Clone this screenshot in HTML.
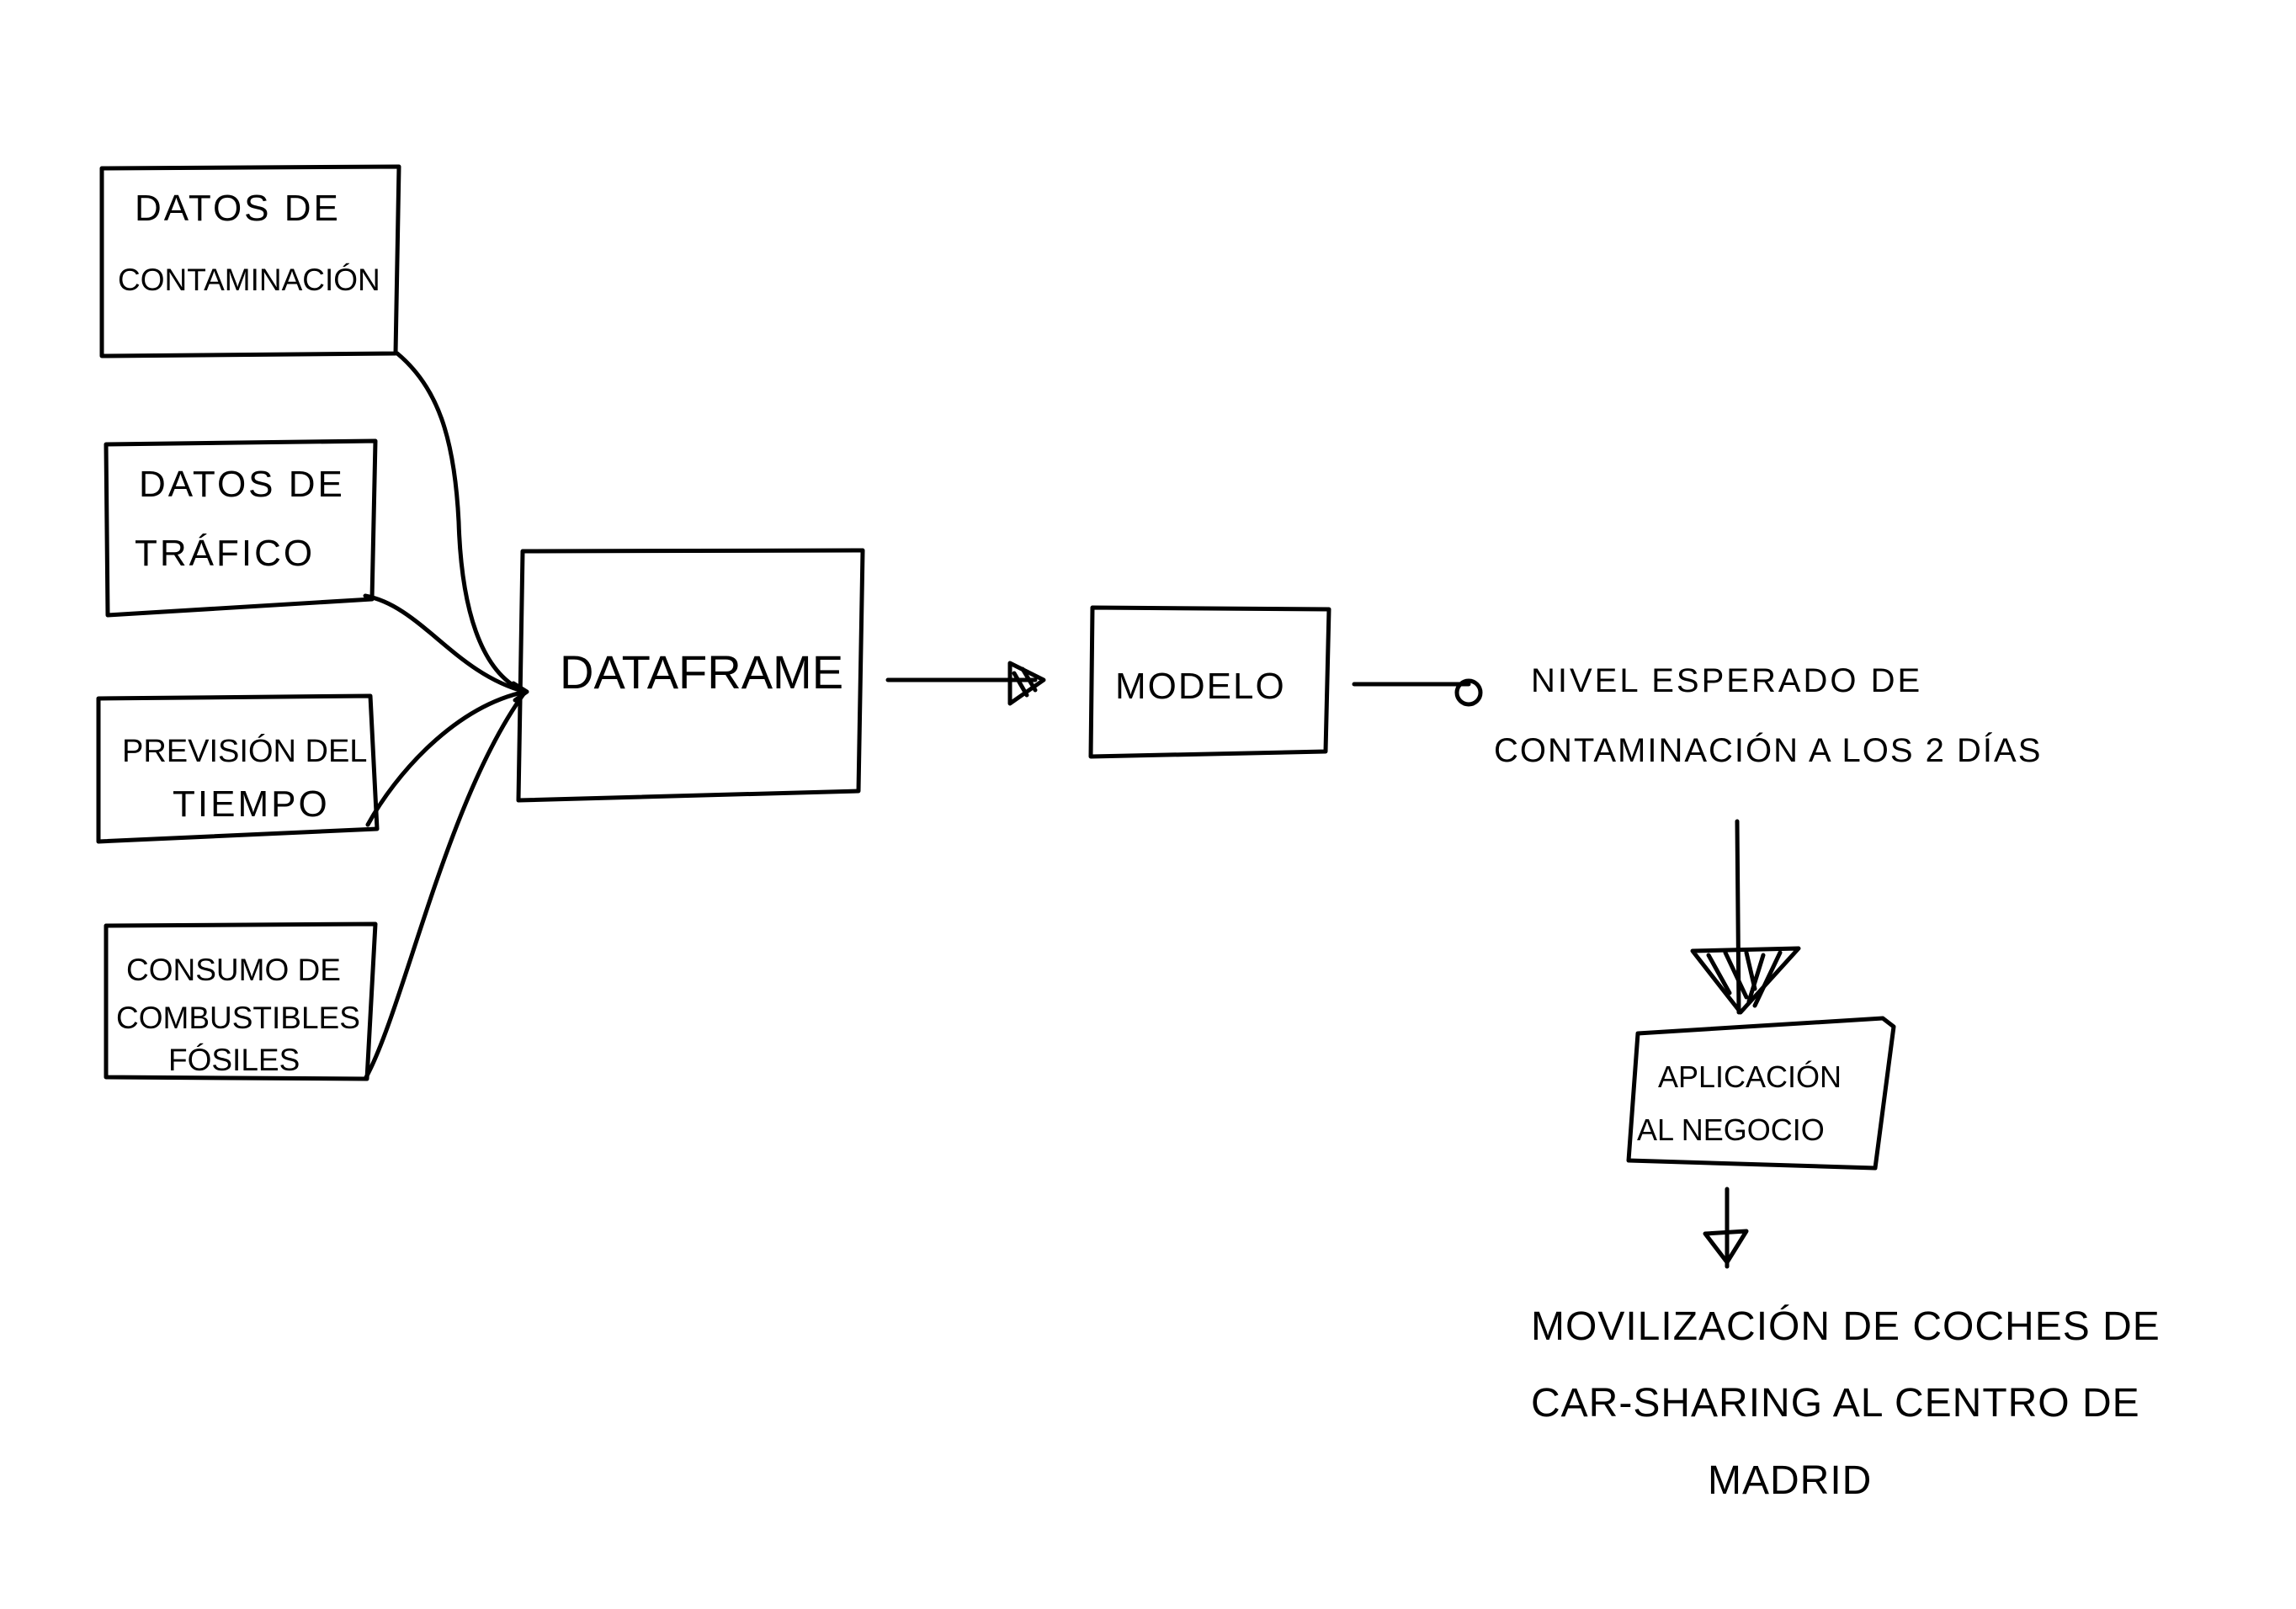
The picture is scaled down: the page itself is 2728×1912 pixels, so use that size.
<!DOCTYPE html>
<html><head><meta charset="utf-8"><style>
html,body{margin:0;padding:0;background:#fff;}
svg{display:block;}
text{font-family:"Liberation Sans",sans-serif;fill:#000;}
</style></head><body>
<svg width="2728" height="1912" viewBox="0 0 2728 1912" xmlns="http://www.w3.org/2000/svg">
<g fill="none" stroke="#000" stroke-width="5" stroke-linecap="round" stroke-linejoin="round">
<polygon points="121,200 474,198 470,420 121,423"/>
<polygon points="126,528 446,524 442,712 128,731"/>
<polygon points="117,830 440,827 448,985 117,1000"/>
<polygon points="126,1100 446,1098 436,1282 126,1280"/>
<polygon points="621,655 1025,654 1020,940 616,951"/>
<polygon points="1298,722 1579,724 1575,893 1296,899"/>
<polygon points="1946,1228 2237,1210 2250,1220 2228,1388 1935,1379"/>
<path d="M472,420 C520,460 540,520 545,620 C548,720 570,800 624,822"/>
<path d="M434,708 C500,720 540,800 624,822"/>
<path d="M437,980 C470,920 540,840 624,822"/>
<path d="M434,1282 C480,1200 530,950 624,822"/>
<path d="M610,812 L626,822 L612,832"/>
<path d="M1055,808 L1230,808"/>
<path d="M1200,788 L1240,808 L1200,836 Z"/>
<path d="M1205,800 L1220,826 M1215,795 L1230,820"/>
<path d="M1609,813 L1745,813"/>
<circle cx="1745" cy="823" r="14"/>
<path d="M2064,976 L2066,1203"/>
<path d="M2011,1130 L2137,1127 L2068,1203 Z"/>
<path d="M2030,1135 L2055,1180 M2050,1132 L2075,1185 M2075,1132 L2085,1175 M2095,1135 L2078,1190 M2115,1132 L2085,1195"/>
<path d="M2052,1413 L2052,1505"/>
<path d="M2026,1466 L2075,1463 L2052,1500 Z"/>
</g>
<g font-size="44" letter-spacing="3">
<text x="160" y="262">DATOS DE</text>
<text x="140" y="345" font-size="37" letter-spacing="0">CONTAMINACIÓN</text>
<text x="165" y="590">DATOS DE</text>
<text x="160" y="672">TRÁFICO</text>
<text x="145" y="905" font-size="38" letter-spacing="0">PREVISIÓN DEL</text>
<text x="205" y="970">TIEMPO</text>
<text x="150" y="1165" font-size="37" letter-spacing="0">CONSUMO DE</text>
<text x="138" y="1222" font-size="37" letter-spacing="0">COMBUSTIBLES</text>
<text x="200" y="1272" font-size="37" letter-spacing="0">FÓSILES</text>
</g>
<text x="665" y="818" font-size="56" letter-spacing="0">DATAFRAME</text>
<text x="1325" y="830" font-size="44" letter-spacing="2">MODELO</text>
<text x="1819" y="822" font-size="40" letter-spacing="3">NIVEL ESPERADO DE</text>
<text x="1775" y="905" font-size="40" letter-spacing="2">CONTAMINACIÓN A LOS 2 DÍAS</text>
<text x="1970" y="1292" font-size="36" letter-spacing="0">APLICACIÓN</text>
<text x="1945" y="1355" font-size="36" letter-spacing="0">AL NEGOCIO</text>
<g font-size="48" letter-spacing="1">
<text x="1819" y="1592">MOVILIZACIÓN DE COCHES DE</text>
<text x="1819" y="1683">CAR-SHARING AL CENTRO DE</text>
<text x="2029" y="1775">MADRID</text>
</g>
</svg>
</body></html>
